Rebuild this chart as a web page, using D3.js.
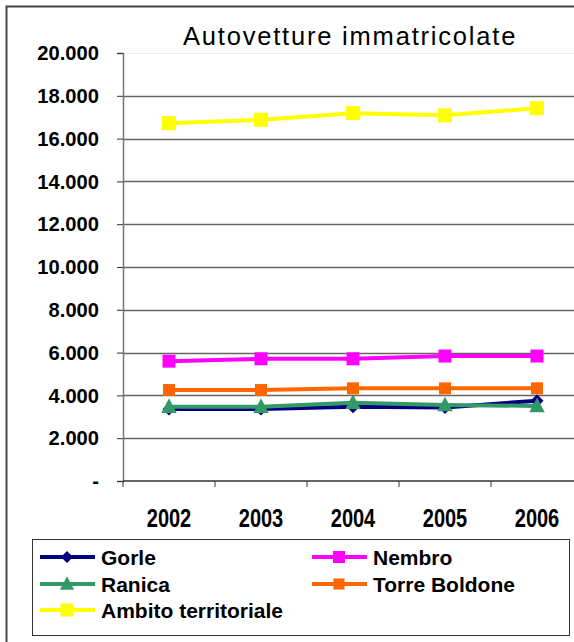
<!DOCTYPE html>
<html>
<head>
<meta charset="utf-8">
<script src="https://cdn.jsdelivr.net/npm/d3@7"></script>
<style>
  body { margin: 0; background: #fff; }
  svg { display: block; font-family: "Liberation Sans", Arial, sans-serif; }
</style>
</head>
<body>
<div id="chart"></div>
<script>
// data
var years = ["2002", "2003", "2004", "2005", "2006"];
var gorle = [3360, 3360, 3470, 3440, 3750];
var nembro = [5600, 5710, 5710, 5840, 5840];
var ranica = [3470, 3470, 3660, 3550, 3510];
var torre = [4250, 4250, 4330, 4330, 4330];
var ambito = [16720, 16880, 17190, 17090, 17420];
var yTicks = [0, 2000, 4000, 6000, 8000, 10000, 12000, 14000, 16000, 18000, 20000];

var series = [
    { name: "Gorle", values: gorle, color: "#000080", shape: "diamond" },
    { name: "Nembro", values: nembro, color: "#FF00FF", shape: "square" },
    { name: "Ranica", values: ranica, color: "#339966", shape: "triangle" },
    { name: "Torre Boldone", values: torre, color: "#FF6600", shape: "square" },
    { name: "Ambito territoriale", values: ambito, color: "#FFFF00", shape: "square" }
];

var W = 574, H = 642;
var plot = { left: 123, top: 53, right: 583, bottom: 481 };

var svg = d3.select("#chart").append("svg")
    .attr("width", W)
    .attr("height", H);

// outer frame (right side runs off the picture)
svg.append("path")
    .attr("d", "M6.5," + H + "V6.5H" + W)
    .attr("fill", "none")
    .attr("stroke", "#444")
    .attr("stroke-width", 2);

var x = d3.scaleBand().domain(years).range([plot.left, plot.right]);
var y = d3.scaleLinear().domain([0, 20000]).range([plot.bottom, plot.top]);

// gridlines
svg.append("g").selectAll("line")
    .data(yTicks.filter(function (d) { return d > 0; }))
    .enter().append("line")
    .attr("x1", plot.left).attr("x2", W)
    .attr("y1", function (d) { return Math.round(y(d)) + 0.5; })
    .attr("y2", function (d) { return Math.round(y(d)) + 0.5; })
    .attr("stroke", function (d) { return d == 20000 ? "#eee" : "#666"; })
    .attr("stroke-width", function (d) { return d == 20000 ? 1 : 1.5; });

function fmt(d) {
    if (d == 0) return "-";
    return d3.format(",")(d).replace(/,/g, ".");
}

// y axis
var yAxis = svg.append("g")
    .attr("transform", "translate(" + plot.left + ",0)")
    .call(d3.axisLeft(y).tickValues(yTicks).tickSize(6).tickPadding(18).tickFormat(fmt));
yAxis.select(".domain").attr("stroke", "#777").attr("stroke-width", 1.5);
yAxis.selectAll(".tick line").attr("stroke", "#333");
yAxis.selectAll("text")
    .attr("font-family", "Liberation Sans, Arial, sans-serif")
    .attr("font-size", 21)
    .attr("font-weight", "bold")
    .attr("fill", "#000")
    .attr("transform", function () {
        var tx = +d3.select(this).attr("x");
        return "translate(" + tx + ",0) scale(0.96,1) translate(" + (-tx) + ",0)";
    });

// x axis
var xAxis = svg.append("g")
    .attr("transform", "translate(0," + plot.bottom + ")")
    .call(d3.axisBottom(x).tickSize(0).tickPadding(28));
xAxis.select(".domain").remove();
xAxis.append("line")
    .attr("x1", plot.left).attr("x2", W)
    .attr("stroke", "#333").attr("stroke-width", 1.5);
xAxis.selectAll(".bound")
    .data(years)
    .enter().append("line")
    .attr("class", "bound")
    .attr("x1", function (d) { return x(d); })
    .attr("x2", function (d) { return x(d); })
    .attr("y1", 0).attr("y2", 6)
    .attr("stroke", "#333");
xAxis.selectAll(".tick text")
    .attr("font-family", "Liberation Sans, Arial, sans-serif")
    .attr("font-size", 25)
    .attr("font-weight", "bold")
    .attr("fill", "#000")
    .attr("transform", "scale(0.8,1)");

// title
svg.append("text")
    .attr("x", 183).attr("y", 45)
    .attr("font-size", 25.5)
    .attr("letter-spacing", 1.8)
    .attr("fill", "#000")
    .text("Autovetture immatricolate");

function marker(g, shape, color, cx, cy, s) {
    if (shape == "square") {
        g.append("rect")
            .attr("x", cx - s / 2).attr("y", cy - s / 2)
            .attr("width", s).attr("height", s)
            .attr("fill", color);
    } else if (shape == "diamond") {
        g.append("path")
            .attr("d", "M" + cx + "," + (cy - s / 2) + "L" + (cx + s / 2) + "," + cy +
                "L" + cx + "," + (cy + s / 2) + "L" + (cx - s / 2) + "," + cy + "Z")
            .attr("fill", color);
    } else {
        g.append("path")
            .attr("d", "M" + cx + "," + (cy - s * 0.6) + "L" + (cx + s * 0.55) + "," + (cy + s * 0.45) +
                "L" + (cx - s * 0.55) + "," + (cy + s * 0.45) + "Z")
            .attr("fill", color);
    }
}

var sizes = { "Gorle": 13, "Nembro": 13, "Ranica": 14, "Torre Boldone": 12, "Ambito territoriale": 14 };

var line = d3.line()
    .x(function (d, i) { return x(years[i]) + x.bandwidth() / 2; })
    .y(function (d) { return y(d); });

series.forEach(function (s) {
    var g = svg.append("g");
    g.append("path")
        .attr("d", line(s.values))
        .attr("fill", "none")
        .attr("stroke", s.color)
        .attr("stroke-width", 4);
    s.values.forEach(function (v, i) {
        marker(g, s.shape, s.color, x(years[i]) + x.bandwidth() / 2, y(v), sizes[s.name]);
    });
});

// legend
var lg = svg.append("g");
lg.append("rect")
    .attr("x", 32.5).attr("y", 539.5)
    .attr("width", 537).attr("height", 96)
    .attr("fill", "#fff")
    .attr("stroke", "#333");
var slots = [[40, 557], [312, 557], [40, 584], [312, 584], [40, 610]];
series.forEach(function (s, i) {
    var px = slots[i][0], py = slots[i][1];
    lg.append("line")
        .attr("x1", px).attr("x2", px + 55)
        .attr("y1", py).attr("y2", py)
        .attr("stroke", s.color)
        .attr("stroke-width", 4);
    marker(lg, s.shape, s.color, px + 27, py, sizes[s.name] - 1);
    lg.append("text")
        .attr("x", px + 61).attr("y", py + 7.5)
        .attr("font-size", 21)
        .attr("font-weight", "bold")
        .text(s.name);
});
</script>
</body>
</html>
